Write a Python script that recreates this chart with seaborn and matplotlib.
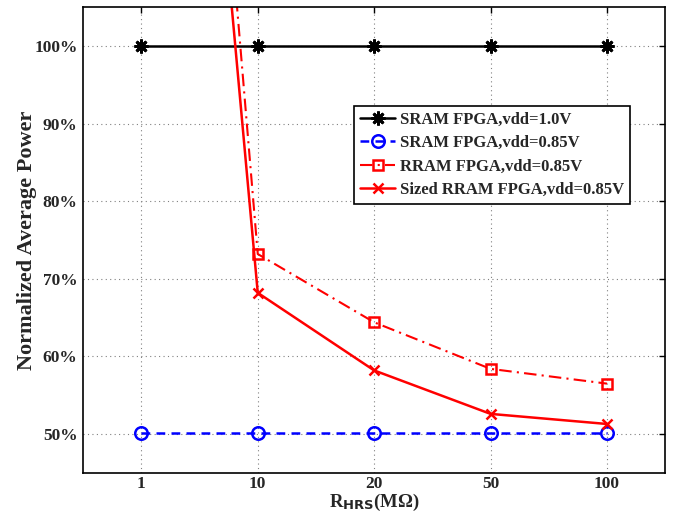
import matplotlib
matplotlib.use('Agg')
import matplotlib.pyplot as plt
import numpy as np
import pandas as pd
import seaborn as sns

# data
r_hrs = ['1', '10', '20', '50', '100']
sram_10 = [100, 100, 100, 100, 100]
sram_085 = [50.2, 50.2, 50.2, 50.2, 50.2]
rram_085 = [252, 73.2, 64.4, 58.4, 56.5]
sized_rram_085 = [233, 68.2, 58.2, 52.6, 51.3]
y_ticks = [50, 60, 70, 80, 90, 100]

sns.set_style('white')
plt.rcParams['font.family'] = ['Liberation Serif', 'DejaVu Serif']
plt.rcParams['font.weight'] = 'bold'
plt.rcParams['mathtext.fontset'] = 'custom'
plt.rcParams['mathtext.rm'] = 'Liberation Serif:bold'
plt.rcParams['mathtext.default'] = 'rm'

pos = np.arange(len(r_hrs))
df = pd.DataFrame({'pos': pos, 'sram_10': sram_10, 'sram_085': sram_085,
                   'rram_085': rram_085, 'sized': sized_rram_085})

fig = plt.figure(figsize=(6.76, 5.14), dpi=100)
ax = fig.add_axes([0.123, 0.080, 0.861, 0.906])

sns.lineplot(data=df, x='pos', y='sram_10', ax=ax, color='black', lw=1.8,
             marker=(8, 2, 0), markersize=10, markeredgewidth=2,
             markeredgecolor='black', label='SRAM FPGA,vdd=1.0V')
sns.lineplot(data=df, x='pos', y='sram_085', ax=ax, color='blue', lw=1.8,
             linestyle=(0, (3.5, 2.5)), marker='o', markersize=9,
             markerfacecolor='none', markeredgecolor='blue', markeredgewidth=1.8,
             label='SRAM FPGA,vdd=0.85V')
sns.lineplot(data=df, x='pos', y='rram_085', ax=ax, color='red', lw=1.5,
             linestyle=(0, (6, 2.5, 1, 2.5)), marker='s', markersize=7,
             markerfacecolor='none', markeredgecolor='red', markeredgewidth=1.8,
             label='RRAM FPGA,vdd=0.85V')
sns.lineplot(data=df, x='pos', y='sized', ax=ax, color='red', lw=1.8,
             marker='x', markersize=7, markeredgewidth=1.8, markeredgecolor='red',
             label='Sized RRAM FPGA,vdd=0.85V')

ax.set_xlim(-0.5, len(r_hrs) - 0.5)
ax.set_ylim(45, 105)
ax.set_xticks(pos)
ax.set_xticklabels(r_hrs)
ax.set_yticks(y_ticks)
ax.set_yticklabels([f'{v}%' for v in y_ticks])
ax.tick_params(direction='in', length=4, width=1, labelsize=12.5,
               top=True, right=True, pad=4, color='black')
ax.tick_params(axis='x', pad=2)
for lab in ax.get_xticklabels() + ax.get_yticklabels():
    lab.set_fontweight('bold')

ax.grid(True, linestyle=(0, (1, 3)), color='0.5', lw=0.8)
for s in ax.spines.values():
    s.set_color('black')
    s.set_linewidth(1.2)

ax.set_xlabel(r'R$_{\mathbf{HRS}}$(MΩ)', fontsize=13.5, fontweight='bold', labelpad=0)
ax.set_ylabel('Normalized Average Power', fontsize=16, fontweight='bold', labelpad=-2)

leg = ax.legend(loc='upper left', bbox_to_anchor=(0.466, 0.788), fontsize=12,
                frameon=True, fancybox=False, framealpha=1, edgecolor='black',
                borderpad=0.35, labelspacing=0.45, handlelength=2.1,
                handletextpad=0.3, borderaxespad=0)
leg.get_frame().set_linewidth(1.2)
for t in leg.get_texts():
    t.set_fontweight('bold')

fig.savefig('out.png', dpi=100)
plt.close(fig)
